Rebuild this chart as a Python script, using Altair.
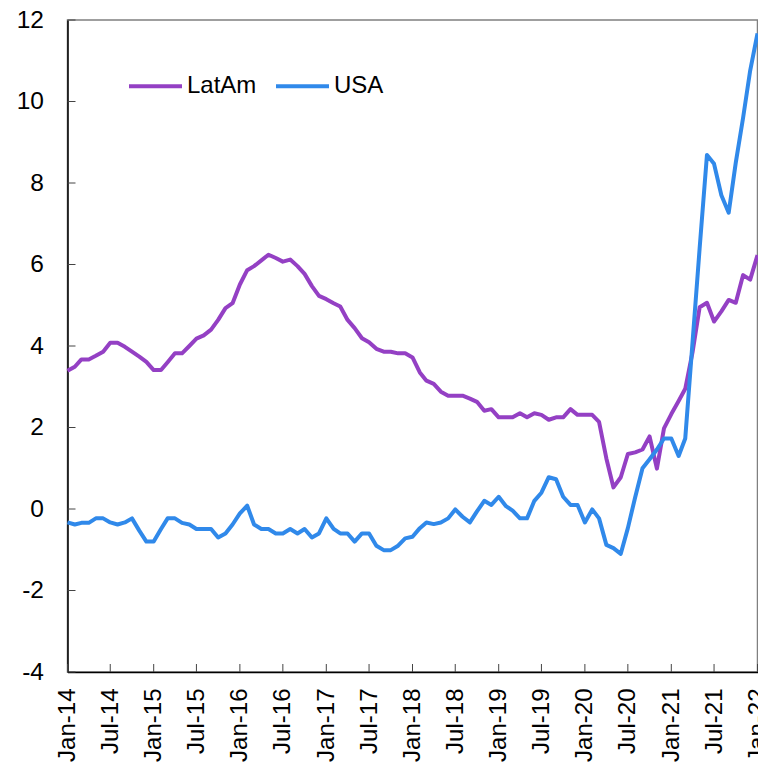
import altair as alt
import pandas as pd

# monthly observations, Jan-14 .. Jan-22
months = pd.date_range("2014-01-01", "2022-01-01", freq="MS")

latam = [3.39, 3.49, 3.67, 3.67, 3.76, 3.86, 4.08, 4.08, 3.98, 3.86, 3.74, 3.61,
         3.41, 3.41, 3.60, 3.82, 3.82, 4.00, 4.18, 4.26, 4.40, 4.64, 4.93, 5.05,
         5.51, 5.86, 5.96, 6.10, 6.24, 6.16, 6.07, 6.12, 5.96, 5.77, 5.47, 5.23,
         5.15, 5.05, 4.97, 4.64, 4.44, 4.19, 4.09, 3.93, 3.86, 3.86, 3.82, 3.82,
         3.72, 3.35, 3.15, 3.07, 2.88, 2.78, 2.78, 2.78, 2.71, 2.63, 2.41, 2.45,
         2.25, 2.25, 2.25, 2.35, 2.25, 2.35, 2.31, 2.19, 2.25, 2.25, 2.45, 2.31,
         2.31, 2.31, 2.14, 1.24, 0.53, 0.78, 1.35, 1.39, 1.46, 1.78, 0.99, 1.98,
         2.33, 2.65, 2.95, 3.85, 4.95, 5.06, 4.60, 4.85, 5.13, 5.06, 5.74, 5.63,
         6.23]

usa = [-0.33, -0.38, -0.34, -0.34, -0.23, -0.23, -0.33, -0.38, -0.33, -0.23, -0.53, -0.80,
       -0.80, -0.49, -0.23, -0.23, -0.34, -0.38, -0.49, -0.49, -0.49, -0.70, -0.60, -0.38,
       -0.11, 0.08, -0.38, -0.49, -0.49, -0.60, -0.60, -0.49, -0.60, -0.49, -0.70, -0.60,
       -0.23, -0.49, -0.60, -0.60, -0.80, -0.60, -0.60, -0.90, -1.01, -1.01, -0.90, -0.72,
       -0.68, -0.47, -0.33, -0.37, -0.33, -0.23, -0.01, -0.19, -0.33, -0.06, 0.20, 0.10,
       0.30, 0.07, -0.04, -0.23, -0.23, 0.20, 0.40, 0.78, 0.73, 0.30, 0.10, 0.10,
       -0.33, -0.01, -0.23, -0.88, -0.96, -1.10, -0.47, 0.29, 1.00, 1.22, 1.46, 1.73,
       1.73, 1.30, 1.73, 4.10, 6.40, 8.69, 8.47, 7.70, 7.27, 8.50, 9.60, 10.76,
       11.67]

series_names = ["LatAm", "USA"]
series_colors = ["#9440C4", "#3089EA"]
y_ticks = [-4, -2, 0, 2, 4, 6, 8, 10, 12]
x_ticks = pd.date_range("2014-01-01", "2022-01-01", freq="6MS")

df = pd.DataFrame({
    "date": list(months) * 2,
    "series": ["LatAm"] * len(latam) + ["USA"] * len(usa),
    "value": latam + usa,
})
xt_df = pd.DataFrame({"date": x_ticks})
yt_df = pd.DataFrame({"v": y_ticks})

x_enc = alt.X(
    "date:T",
    scale=alt.Scale(domain=[alt.DateTime(year=2014, month=1, date=1),
                            alt.DateTime(year=2022, month=1, date=1)], nice=False),
    axis=alt.Axis(values=[alt.DateTime(year=d.year, month=d.month, date=1) for d in x_ticks],
                  format="%b-%y", labelAngle=-90, labelAlign="right", labelBaseline="middle",
                  labelFontSize=24, ticks=False, tickSize=0, labelPadding=16,
                  grid=False, title=None),
)
y_scale = alt.Scale(domain=[-4, 12], nice=False)
y_enc = alt.Y(
    "value:Q",
    scale=y_scale,
    axis=alt.Axis(values=y_ticks, labelExpr="toString(datum.value)", labelFontSize=24.5,
                  ticks=False, tickSize=0, labelPadding=24, grid=False, title=None),
)

lines = alt.Chart(df).mark_line(strokeWidth=4, strokeJoin="round").encode(
    x=x_enc,
    y=y_enc,
    color=alt.Color("series:N",
                    scale=alt.Scale(domain=series_names, range=series_colors),
                    legend=alt.Legend(title=None, orient="none", legendX=59.5, legendY=37.5,
                                      direction="horizontal")),
)

# inward tick marks
x_tick_marks = alt.Chart(xt_df).mark_rule(color="#444", strokeWidth=1).encode(
    x=x_enc, y=alt.value(652), y2=alt.value(644)
)
y_tick_marks = alt.Chart(yt_df).mark_rule(color="#444", strokeWidth=1).encode(
    y=alt.Y("v:Q", scale=y_scale),
    x=alt.value(0), x2=alt.value(8)
)

chart = alt.layer(x_tick_marks, y_tick_marks, lines).properties(
    width=690,
    height=652,
    padding={"left": 59.5, "top": 12, "right": 0.5, "bottom": 90},
    autosize="none",
).configure_view(
    stroke="#808080", strokeWidth=1.5
).configure_axis(
    labelFont="Liberation Sans", labelColor="black",
    domainColor="black", domainWidth=1.5
).configure_legend(
    symbolType="stroke", symbolSize=2809, symbolStrokeWidth=4,
    labelFont="Liberation Sans", labelFontSize=24, labelColor="black",
    labelOffset=3, columnPadding=11, padding=0
)

chart.save("out.html", embed_options={"renderer": "svg", "actions": False})
